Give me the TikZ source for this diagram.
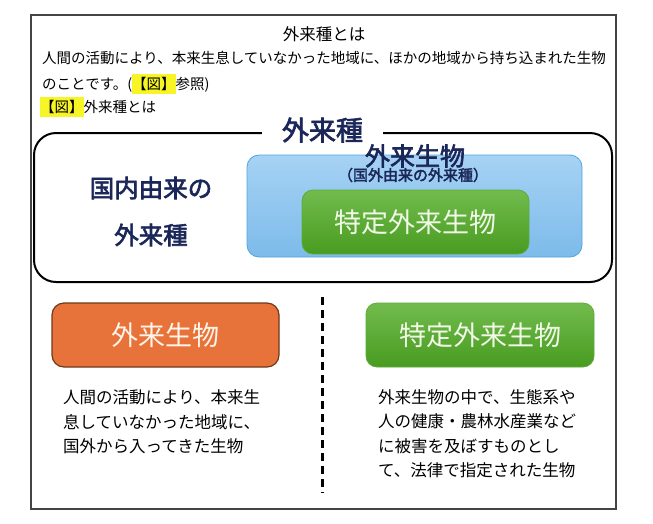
\documentclass[tikz,border=0pt]{standalone}
\usepackage{fontspec}
\setmainfont{Noto Sans CJK JP}
\newfontfamily\medfont[FakeBold=2.5]{Noto Sans CJK JP}
\definecolor{framegray}{HTML}{444444}
\definecolor{navy}{HTML}{1A2758}
\definecolor{hlyellow}{HTML}{F8F526}
\definecolor{bluetop}{HTML}{A6D2F4}
\definecolor{bluebot}{HTML}{7DBBEA}
\definecolor{blueline}{HTML}{4FA6DC}
\definecolor{greentop}{HTML}{72BC4E}
\definecolor{greenbot}{HTML}{489B20}
\definecolor{greenline}{HTML}{5EAC38}
\definecolor{orangefill}{HTML}{E8733A}
\definecolor{orangeline}{HTML}{6E3A1A}
\definecolor{greentext}{HTML}{F2F8E8}
\definecolor{orangetext}{HTML}{FFF4E8}
\newcommand\myhl[1]{{\setlength{\fboxsep}{0pt}\colorbox{hlyellow}{\rule[-4.5pt]{0pt}{20pt}#1}}}
\tikzset{
  hdr/.style={inner sep=0pt, font=\fontsize{14.5}{17}\selectfont, anchor=base west},
  desc/.style={inner sep=0pt, font=\fontsize{16.5}{20}\selectfont, anchor=base west},
  navytext/.style={inner sep=0pt, text=navy, anchor=base},
  greenbox/.style={rounded corners=11pt, top color=greentop, bottom color=greenbot, draw=greenline, line width=0.8pt, text=greentext, font=\fontsize{27}{30}\selectfont, inner sep=0pt},
}
\begin{document}
\begin{tikzpicture}[x=1pt,y=-1pt]
\useasboundingbox (0,0) rectangle (653,523);
\fill[white] (0,0) rectangle (653,523);
% outer frame
\node[draw=framegray, line width=1.5pt, minimum width=585pt, minimum height=494pt, inner sep=0pt] (frame) at (323.5,262) {};
% header text
\node[inner sep=0pt, anchor=base, font=\fontsize{16.5}{20}\selectfont] (title) at (324,40.3) {外来種とは};
\node[hdr] (l1) at (42,63.5) {人間の活動により、本来生息していなかった地域に、ほかの地域から持ち込まれた生物};
\node[hdr] (l2) at (42,89.5) {のことです。(\myhl{【図】}参照)};
\node[hdr] (l3) at (40,112.5) {\myhl{【図】}外来種とは};
% big rounded frame
\node[draw=black, line width=2pt, rounded corners=22pt, minimum width=578pt, minimum height=149pt, inner sep=0pt] (outer) at (323,207.5) {};
\node[fill=white, inner xsep=20pt, inner ysep=2pt, text=navy, anchor=base, font=\fontsize{27}{30}\medfont] (gtitle) at (322.5,140.3) {外来種};
% left labels
\node[navytext, font=\fontsize{24.5}{28}\medfont] (dom1) at (151,197.3) {国内由来の};
\node[navytext, font=\fontsize{24.5}{28}\medfont] (dom2) at (151,244.3) {外来種};
% blue box
\node[rounded corners=12pt, top color=bluetop, bottom color=bluebot, draw=blueline, line width=0.8pt, minimum width=335pt, minimum height=102pt, inner sep=0pt] (blue) at (414.5,206) {};
\node[navytext, font=\fontsize{25}{28}\medfont] (bluehead) at (415,165.5) {外来生物};
\node[navytext, font=\fontsize{15}{18}\medfont] (bluesub) at (413,180.7) {（国外由来の外来種）};
\node[greenbox, minimum width=227pt, minimum height=64pt] (ginner) at (415.5,222) {特定外来生物};
% dashed divider
\coordinate (dtop) at (322,297);
\coordinate (dbot) at (322,493);
\draw[line width=3pt, dash pattern=on 8pt off 5pt] (dtop) -- (dbot);
% bottom boxes
\node[rounded corners=12pt, fill=orangefill, draw=orangeline, line width=1.2pt, minimum width=227pt, minimum height=64pt, inner sep=0pt, text=orangetext, font=\fontsize{27}{30}\selectfont] (obox) at (165.5,335) {外来生物};
\node[greenbox, minimum width=228pt, minimum height=64pt] (gbox) at (480,335) {特定外来生物};
% descriptions
\node[desc] (a1) at (63,403.3) {人間の活動により、本来生};
\node[desc] (a2) at (63,428.3) {息していなかった地域に、};
\node[desc] (a3) at (63,452.3) {国外から入ってきた生物};
\node[desc] (b1) at (378,403.3) {外来生物の中で、生態系や};
\node[desc] (b2) at (378,427.8) {人の健康・農林水産業など};
\node[desc] (b3) at (378,452.3) {に被害を及ぼすものとし};
\node[desc] (b4) at (378,476.8) {て、法律で指定された生物};
\end{tikzpicture}
\end{document}
